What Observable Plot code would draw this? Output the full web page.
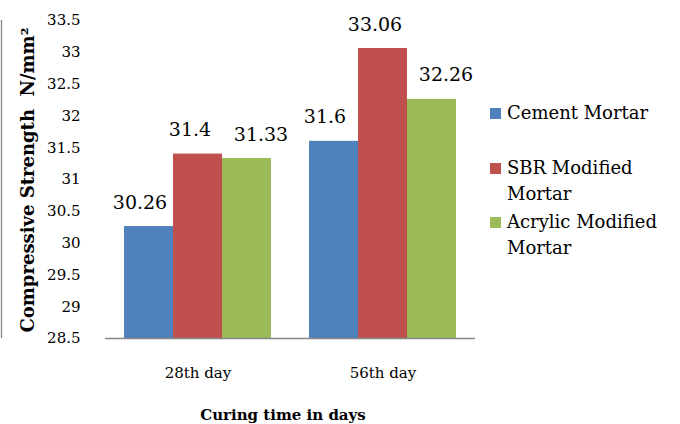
<!DOCTYPE html>
<html><head><meta charset="utf-8">
<script src="https://cdn.jsdelivr.net/npm/d3@7"></script>
<script src="https://cdn.jsdelivr.net/npm/@observablehq/plot@0.6"></script>
<style>
body{margin:0;background:#fff;}
#wrap{position:relative;width:680px;height:424px;font-family:"DejaVu Serif",serif;color:#000;}
#ytitle{position:absolute;left:27px;top:180px;transform:translate(-50%,-50%) rotate(-90deg);white-space:nowrap;font-weight:bold;font-size:18px;}
#xtitle{position:absolute;left:283px;top:415px;transform:translate(-50%,-50%);white-space:nowrap;font-weight:bold;font-size:15px;}
.leg{position:absolute;left:490px;width:190px;font-size:18px;line-height:26px;}
.leg .sw{position:absolute;left:0;top:8px;width:11px;height:11px;}
.leg .lt{margin-left:17px;width:172px;}
</style></head><body><div id="wrap"></div>
<script>
const days = ["28th day", "56th day"];
const series = ["Cement Mortar", "SBR Modified Mortar", "Acrylic Modified Mortar"];
const cementMortar = [30.26, 31.6];
const sbrModified = [31.4, 33.06];
const acrylicModified = [31.33, 32.26];
const colors = ["#4F81BD", "#C0504D", "#9BBB59"];
const yTicks = [28.5, 29, 29.5, 30, 30.5, 31, 31.5, 32, 32.5, 33, 33.5];
const yDomain = [28.5, 33.5];
const yTitle = "Compressive Strength\u00a0 N/mm\u00b2";
const xTitle = "Curing time in days";

// label horizontal nudge per series (style only)
const labelShift = [-9, -8, 14];

const values = [cementMortar, sbrModified, acrylicModified];
const data = [];
days.forEach((d, i) => series.forEach((s, j) => data.push({day: d, series: s, value: values[j][i], base: yDomain[0], k: j})));

function build(extra) {
  return Plot.plot({
    width: 680, height: 424,
    marginLeft: 104, marginRight: 205, marginTop: 20, marginBottom: 86,
    style: {fontFamily: "DejaVu Serif", fontSize: "15px", color: "#000", background: "#fff"},
    fx: {domain: days, padding: 0, tickSize: 0, tickPadding: 29, label: null},
    x: {domain: series, paddingInner: 0, paddingOuter: 0.375, axis: null},
    y: {domain: yDomain, ticks: yTicks, tickFormat: d => String(d), tickSize: 0, tickPadding: 25, label: null},
    color: {domain: series, range: colors},
    marks: [
      Plot.barY(data, {fx: "day", x: "series", y1: "base", y2: "value", fill: "series", inset: 0}),
      ...extra,
      Plot.ruleY([yDomain[0]], {stroke: "#868686", strokeWidth: 1.3}),
      ...series.map((s, j) => Plot.text(data.filter(d => d.k === j), {fx: "day", x: "series", y: "value", text: d => String(d.value), dy: -24, dx: labelShift[j], fontSize: 19, fill: "#000"}))
    ]
  });
}

// First pass to read the x band scale, then draw the left axis line at the start of the first facet.
let chart = build([]);
try {
  const xs = chart.scale("x");
  const shift = -(xs.apply(series[0]) + xs.bandwidth / 2);
  chart = build([Plot.ruleX([{day: days[0], series: series[0]}], {fx: "day", x: "series", dx: shift, stroke: "#868686", strokeWidth: 1.3})]);
} catch (e) {}

const wrap = document.getElementById("wrap");
wrap.appendChild(chart);

const yt = document.createElement("div"); yt.id = "ytitle"; yt.textContent = yTitle; wrap.appendChild(yt);
const xt = document.createElement("div"); xt.id = "xtitle"; xt.textContent = xTitle; wrap.appendChild(xt);
const legendTops = [100, 155, 209];
series.forEach((s, i) => {
  const it = document.createElement("div"); it.className = "leg"; it.style.top = legendTops[i] + "px";
  const sw = document.createElement("div"); sw.className = "sw"; sw.style.background = colors[i];
  const lt = document.createElement("div"); lt.className = "lt"; lt.textContent = s;
  it.appendChild(sw); it.appendChild(lt); wrap.appendChild(it);
});
</script></body></html>
